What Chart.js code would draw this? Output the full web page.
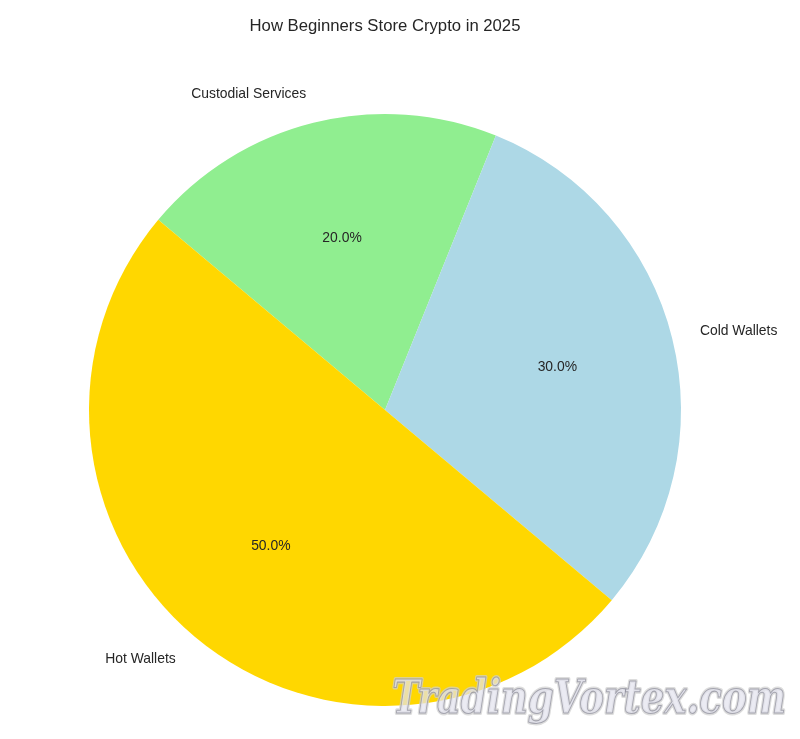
<!DOCTYPE html>
<html>
<head>
<meta charset="utf-8">
<script src="https://cdn.jsdelivr.net/npm/chart.js@4"></script>
<style>
html,body{margin:0;padding:0;background:#fff;}
#wrap{width:800px;height:739px;position:relative;}
</style>
</head>
<body>
<div id="wrap"><canvas id="c" width="800" height="739"></canvas></div>
<script>
const titleText = 'How Beginners Store Crypto in 2025';
const categories = ['Hot Wallets', 'Cold Wallets', 'Custodial Services'];
const shares = [50, 30, 20];
const colors = ['#FFD700', '#ADD8E6', '#90EE90'];
const watermark = 'TradingVortex.com';

// matplotlib draws counter-clockwise from 140°, Chart.js clockwise: reverse order
const order = [2, 1, 0];
const labels = order.map(i => categories[i]);
const values = order.map(i => shares[i]);
const bg = order.map(i => colors[i]);

const FONT = '"Liberation Sans", Arial, sans-serif';
const TXT = '#262626';

const labelPlugin = {
  id: 'pieLabels',
  afterDatasetsDraw(chart) {
    const ctx = chart.ctx;
    const meta = chart.getDatasetMeta(0);
    const total = values.reduce((a, b) => a + b, 0);
    ctx.save();
    ctx.font = '13.9px ' + FONT;
    ctx.fillStyle = TXT;
    meta.data.forEach((arc, i) => {
      const p = arc.getProps(['x', 'y', 'startAngle', 'endAngle', 'outerRadius'], true);
      const mid = (p.startAngle + p.endAngle) / 2;
      const cx = Math.cos(mid), cy = Math.sin(mid);
      ctx.textAlign = 'center';
      ctx.textBaseline = 'middle';
      const pr = p.outerRadius * 0.6;
      ctx.fillText((values[i] / total * 100).toFixed(1) + '%', p.x + cx * pr, p.y + cy * pr);
      const lr = p.outerRadius * 1.1;
      ctx.textAlign = cx < 0 ? 'right' : 'left';
      ctx.fillText(labels[i], p.x + cx * lr - (cx < 0 ? 0 : 1), p.y + cy * lr);
    });
    ctx.restore();
  },
  afterDraw(chart) {
    const ctx = chart.ctx;
    ctx.save();
    ctx.font = '16.7px ' + FONT;
    ctx.fillStyle = TXT;
    ctx.textAlign = 'center';
    ctx.textBaseline = 'middle';
    ctx.fillText(titleText, 385, 26);
    // watermark
    ctx.translate(786, 713);
    ctx.scale(0.79, 1);
    ctx.font = 'italic bold 47px "DejaVu Serif", serif';
    ctx.textAlign = 'right';
    ctx.textBaseline = 'alphabetic';
    ctx.lineJoin = 'round';
    ctx.globalAlpha = 0.7;
    ctx.lineWidth = 4;
    ctx.strokeStyle = '#cfcfcf';
    ctx.strokeText(watermark, 0, 0);
    ctx.fillStyle = '#e2e2ee';
    ctx.fillText(watermark, 0, 0);
    ctx.lineWidth = 1.1;
    ctx.strokeStyle = '#8c8c98';
    ctx.strokeText(watermark, 0, 0);
    ctx.restore();
  }
};

new Chart(document.getElementById('c'), {
  type: 'pie',
  data: {
    labels: labels,
    datasets: [{
      data: values,
      backgroundColor: bg,
      borderWidth: 0,
      hoverOffset: 0,
      offset: 0
    }]
  },
  options: {
    responsive: false,
    animation: false,
    rotation: -50,
    layout: { padding: { left: 89, right: 119, top: 114, bottom: 33 } },
    plugins: {
      legend: { display: false },
      tooltip: { enabled: false },
      title: { display: false }
    },
    events: []
  },
  plugins: [labelPlugin]
});
</script>
</body>
</html>
